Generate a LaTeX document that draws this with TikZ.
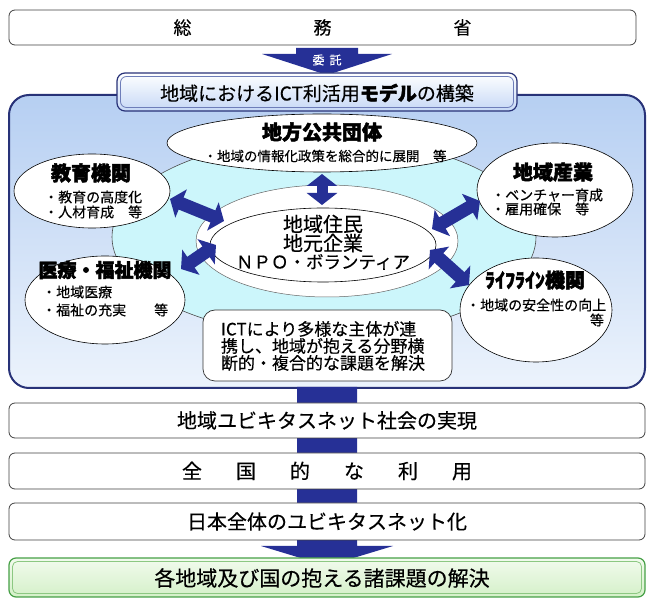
\documentclass[tikz,border=0pt]{standalone}
\usepackage{fontspec}
\setmainfont{Noto Sans CJK JP}[UprightFeatures={FakeBold=0.35},BoldFeatures={FakeBold=2.2}]
\usetikzlibrary{shapes.geometric,arrows.meta}
\definecolor{navy}{RGB}{38,48,150}
\definecolor{boxline}{RGB}{40,50,120}
\definecolor{innerline}{RGB}{110,125,185}
\definecolor{bigtop}{RGB}{182,207,242}
\definecolor{bigbot}{RGB}{236,243,252}
\definecolor{cyanfill}{RGB}{204,246,251}
\definecolor{greenline}{RGB}{70,160,70}
\definecolor{greeninner}{RGB}{140,200,130}
\definecolor{greentop}{RGB}{242,251,238}
\definecolor{greenbot}{RGB}{212,240,200}
\definecolor{modelbot}{RGB}{198,216,246}
\newcommand\myfs[1]{\fontsize{#1pt}{#1pt}\selectfont}
\begin{document}
\begin{tikzpicture}[x=1pt,y=-1pt,
  rbox/.style={draw=black!75, line width=0.8pt, rounded corners=6pt, fill=white,
    minimum width=636pt, inner sep=0pt},
  ell/.style={ellipse, draw=black, line width=0.6pt, fill=white, inner sep=0pt},
  lbl/.style={inner sep=0pt, outer sep=0pt},
  ttl/.style={inner sep=0pt, font=\myfs{20}\bfseries},
  sub/.style={inner sep=0pt, anchor=west, font=\myfs{14}},
  blk/.style={navy, line width=13pt, {Triangle[length=12pt,width=30pt]}-{Triangle[length=12pt,width=30pt]}}
]
\useasboundingbox (0,0) rectangle (654,601);

% top box
\node[rbox, minimum width=627pt, minimum height=35pt] (somu) at (322.5,27.5)
  {\myfs{18}総\hspace{122pt}務\hspace{122pt}省};

% itaku arrow
\fill[navy] (296,48) -- (358,48) -- (358,54) -- (392,54) -- (327,75) -- (262,54) -- (296,54) -- cycle;
\node[lbl, text=white] (itaku) at (327,60) {\myfs{12}委\hspace{5pt}託};

% big box
\node[draw=boxline, line width=2pt, rounded corners=20pt, top color=bigtop, bottom color=bigbot,
  minimum width=636pt, minimum height=293pt, inner sep=0pt] (big) at (327,241.5) {};

% model box
\node[draw=boxline, line width=1.2pt, rounded corners=8pt, top color=white, bottom color=modelbot,
  minimum width=400pt, minimum height=38pt, inner sep=0pt] (model) at (317,92) {};
\node[draw=innerline, line width=0.8pt, rounded corners=6pt,
  minimum width=393pt, minimum height=31pt, inner sep=0pt] (modelin) at (317,92) {};
\node[lbl] (modeltxt) at (317,93) {\myfs{19}地域におけるICT利活用{\bfseries モデル}の構築};

% shaft down
\fill[navy] (297,387) -- (357,387) -- (357,546) -- (393,546) -- (327,566) -- (261,546) -- (297,546) -- cycle;

% cyan ellipse
\node[ellipse, draw=black!70, line width=0.6pt, fill=cyanfill, minimum width=424pt,
  minimum height=198pt, inner sep=0pt] (cyanell) at (324,237) {};

% ring
\node[ellipse, draw=black!60, line width=0.5pt, fill=white, minimum width=262pt,
  minimum height=112pt, inner sep=0pt] (ring) at (327,241) {};

% center ellipse
\node[ell, minimum width=226pt, minimum height=74pt] (chiiki) at (323,245) {};
\node[lbl] (c1) at (323,224) {\myfs{20}地域住民};
\node[lbl] (c2) at (323,243) {\myfs{20}地元企業};
\node[lbl] (c3) at (323,262) {\myfs{17.5}ＮＰＯ・ボランティア};

% top ellipse
\node[ell, minimum width=310pt, minimum height=58pt] (chiho) at (322,143) {};
\node[ttl] (chihot) at (322,132) {地方公共団体};
\node[lbl] (chihos) at (325,156) {\myfs{13.5}・地域の情報化政策を総合的に展開　等};

% kyoiku
\node[ell, minimum width=156pt, minimum height=74pt] (kyoiku) at (92,191) {};
\node[ttl] (kyoikut) at (91,173) {教育機関};
\node[sub] (kyoikus1) at (44,197) {・教育の高度化};
\node[sub] (kyoikus2) at (44,212) {・人材育成　等};

% iryo
\node[ell, minimum width=160pt, minimum height=88pt] (iryo) at (105,300) {};
\node[ttl, font=\myfs{19}\bfseries] (iryot) at (105,270) {医療・福祉機関};
\node[sub] (iryos1) at (42,292) {・地域医療};
\node[sub] (iryos2) at (42,310) {・福祉の充実　　等};

% sangyo
\node[ell, minimum width=156pt, minimum height=94pt] (sangyo) at (555,190) {};
\node[ttl] (sangyot) at (553,172) {地域産業};
\node[sub] (sangyos1) at (491,195) {・ベンチャー育成};
\node[sub] (sangyos2) at (491,209) {・雇用確保　等};

% lifeline
\node[ell, minimum width=152pt, minimum height=104pt] (life) at (536,310) {};
\node[ttl] (lifet) at (535,280) {ﾗｲﾌﾗｲﾝ機関};
\node[sub] (lifes1) at (466,305) {・地域の安全性の向上};
\node[lbl, font=\myfs{14}] (lifes2) at (597,320) {等};

% ICT box
\node[draw=black!80, line width=0.7pt, rounded corners=12pt, fill=white,
  minimum width=249pt, minimum height=71pt, inner sep=0pt] (ictbox) at (327.5,345.5) {};
\node[lbl, anchor=west, align=left, font=\myfs{17}] (icttxt) at (221,346)
  {\baselineskip=21pt ICTにより多様な主体が連\\携し、地域が抱える分野横\\断的・複合的な課題を解決};

% double arrows
\coordinate (a1s) at (322,174); \coordinate (a1e) at (322,205);
\coordinate (a2s) at (170,199); \coordinate (a2e) at (224,221);
\coordinate (a3s) at (181,269); \coordinate (a3e) at (216,245);
\coordinate (a4s) at (432,229); \coordinate (a4e) at (480,201);
\coordinate (a5s) at (430,250); \coordinate (a5e) at (469,285);
\draw[blk, line width=11pt] (a1s) -- (a1e);
\draw[blk] (a2s) -- (a2e);
\draw[blk] (a3s) -- (a3e);
\draw[blk] (a4s) -- (a4e);
\draw[blk] (a5s) -- (a5e);

% bottom boxes
\node[rbox, minimum height=35pt] (b1) at (327,420.5) {\myfs{20}地域ユビキタスネット社会の実現};
\node[rbox, minimum height=36pt] (b2) at (327,471)
  {\myfs{20}全\hspace{34pt}国\hspace{34pt}的\hspace{34pt}な\hspace{34pt}利\hspace{34pt}用};
\node[rbox, minimum height=37pt] (b3) at (327,521.5) {\myfs{20}日本全体のユビキタスネット化};

\node[draw=greenline, line width=1.2pt, rounded corners=7pt, top color=greentop, bottom color=greenbot,
  minimum width=636pt, minimum height=39pt, inner sep=0pt] (b4) at (327,577.5) {};
\node[draw=greeninner, line width=0.8pt, rounded corners=5pt,
  minimum width=629pt, minimum height=32pt, inner sep=0pt] (b4in) at (327,577.5) {};
\node[lbl] (b4txt) at (322,578) {\myfs{21}各地域及び国の抱える諸課題の解決};
\end{tikzpicture}
\end{document}
